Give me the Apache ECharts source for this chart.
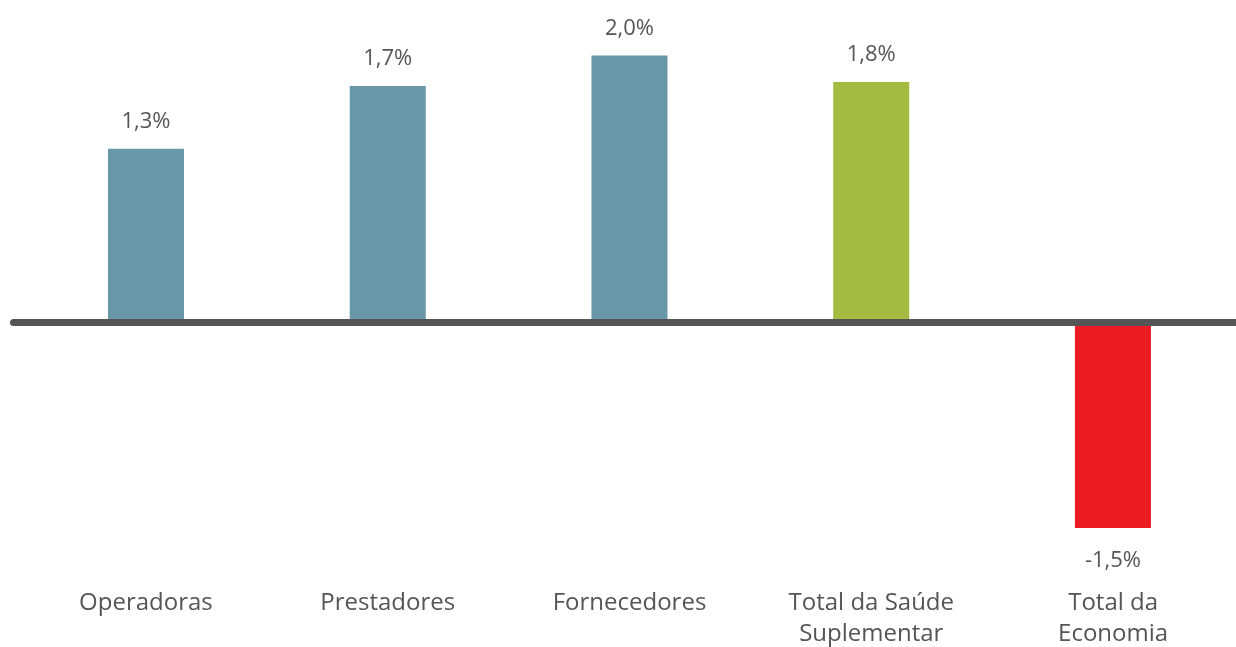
<!DOCTYPE html>
<html>
<head>
<meta charset="utf-8">
<script src="https://cdn.jsdelivr.net/npm/echarts@6/dist/echarts.min.js"></script>
<style>
  html, body { margin: 0; padding: 0; background: #fff; }
  #chart { width: 1236px; height: 647px; }
</style>
</head>
<body>
<div id="chart"></div>
<script>
// categorias e valores
const categorias = ["Operadoras", "Prestadores", "Fornecedores", "Total da Saúde\nSuplementar", "Total da\nEconomia"];
const valores = [1.3, 1.77, 2.0, 1.8, -1.54];
const rotulos = ["1,3%", "1,7%", "2,0%", "1,8%", "-1,5%"];
const cores = ["#6897aa", "#6897aa", "#6897aa", "#a4bb42", "#ed1c24"];

const chart = echarts.init(document.getElementById("chart"));

const option = {
  animation: false,
  grid: [
    // grid das barras (linha do eixo vai de borda a borda)
    { left: 13.5, right: 0, top: 2, bottom: 111, outerBoundsMode: "none" },
    // grid so para os nomes das categorias
    { left: 25, right: 2, top: 2, bottom: 111, outerBoundsMode: "none" },
  ],
  xAxis: [
    {
      type: "value",
      gridIndex: 0,
      min: -0.548,
      max: 4.509,
      axisLine: {
        onZero: true,
        lineStyle: { color: "#555555", width: 7, cap: "round" },
      },
      axisTick: { show: false },
      axisLabel: { show: false },
      splitLine: { show: false },
      z: 10,
    },
    {
      type: "category",
      gridIndex: 1,
      data: categorias,
      position: "bottom",
      axisLine: { show: false, onZero: false },
      axisTick: { show: false },
      axisLabel: {
        margin: 52,
        fontFamily: "Open Sans",
        fontSize: 24,
        lineHeight: 31,
        color: "#555555",
      },
    },
  ],
  yAxis: [
    { type: "value", gridIndex: 0, min: -1.6, max: 2.4, show: false, splitLine: { show: false } },
    { type: "value", gridIndex: 1, min: -1.6, max: 2.4, show: false, splitLine: { show: false } },
  ],
  series: [
    {
      type: "bar",
      xAxisIndex: 0,
      yAxisIndex: 0,
      barWidth: 76,
      data: valores.map((v, i) => ({
        value: [i, v],
        itemStyle: { color: cores[i] },
        label: v < 0 ? { position: "bottom", distance: 22 } : {},
      })),
      label: {
        show: true,
        position: "top",
        distance: 16,
        fontFamily: "Open Sans",
        fontSize: 22,
        color: "#555555",
        formatter: (p) => rotulos[p.dataIndex],
      },
    },
  ],
};

option && chart.setOption(option);
</script>
</body>
</html>
